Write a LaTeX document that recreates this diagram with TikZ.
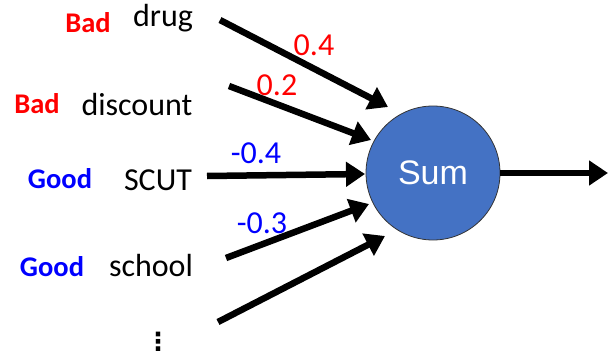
\documentclass[tikz,border=0pt]{standalone}
\usepackage{fontspec}
\setmainfont{Carlito}
\newfontfamily\arialf{Liberation Sans}
\newfontfamily\dejavu{DejaVu Sans}
\usetikzlibrary{arrows.meta}
\definecolor{sumblue}{HTML}{4472C4}
\definecolor{badred}{HTML}{FF0000}
\definecolor{goodblue}{HTML}{0000FF}
\begin{document}
\begin{tikzpicture}[x=1pt,y=-1pt,
  wire/.style={line width=6.5pt,-{Triangle[length=19pt,width=24pt]}},
  word/.style={font=\fontsize{32}{36}\selectfont,anchor=base,inner sep=0pt},
  badlbl/.style={font=\fontsize{28.5}{32}\selectfont\bfseries,text=badred,anchor=base,inner sep=0pt},
  goodlbl/.style={font=\fontsize{28.5}{32}\selectfont\bfseries,text=goodblue,anchor=base,inner sep=0pt},
  wred/.style={font=\fontsize{32}{36}\selectfont,text=badred,anchor=base,inner sep=0pt},
  wblue/.style={font=\fontsize{32}{36}\selectfont,text=goodblue,anchor=base,inner sep=0pt}]
\useasboundingbox (0,0) rectangle (613,356);
\node[circle,fill=sumblue,draw=black!80,line width=0.8pt,minimum size=134pt,inner sep=0pt,
  font=\arialf\fontsize{34}{38}\selectfont,text=white] (sum) at (433,173) {Sum};
% words
\node[badlbl] (b1) at (88,32) {Bad};
\node[word] (w1) at (163,27) {drug};
\node[badlbl] (b2) at (37,113) {Bad};
\node[word] (w2) at (137,115) {discount};
\node[goodlbl] (g1) at (60,188) {Good};
\node[word] (w3) at (158,190) {SCUT};
\node[goodlbl] (g2) at (52,276) {Good};
\node[word] (w4) at (151,276) {school};
\node[font=\dejavu\bfseries\fontsize{25}{28}\selectfont,inner sep=0pt] (w5) at (158,342) {⋮};
% coordinates
\coordinate (s1) at (220,20);
\coordinate (s2) at (229,86);
\coordinate (s3) at (207,176);
\coordinate (s4) at (226,258);
\coordinate (s5) at (218,322);
\coordinate (t1) at (388,107);
\coordinate (t2) at (371,140);
\coordinate (t3) at (365,174);
\coordinate (t4) at (369,204);
\coordinate (t5) at (385,236);
\coordinate (o) at (608,173);
\draw[wire] (s1) -- (t1);
\draw[wire] (s2) -- (t2);
\draw[wire] (s3) -- (t3);
\draw[wire] (s4) -- (t4);
\draw[wire] (s5) -- (t5);
\draw[wire] (sum.east) -- (o);
% weights
\node[wred] (l1) at (314,55) {0.4};
\node[wred] (l2) at (277,95) {0.2};
\node[wblue] (l3) at (256,163) {-0.4};
\node[wblue] (l4) at (262,233) {-0.3};
\end{tikzpicture}
\end{document}
